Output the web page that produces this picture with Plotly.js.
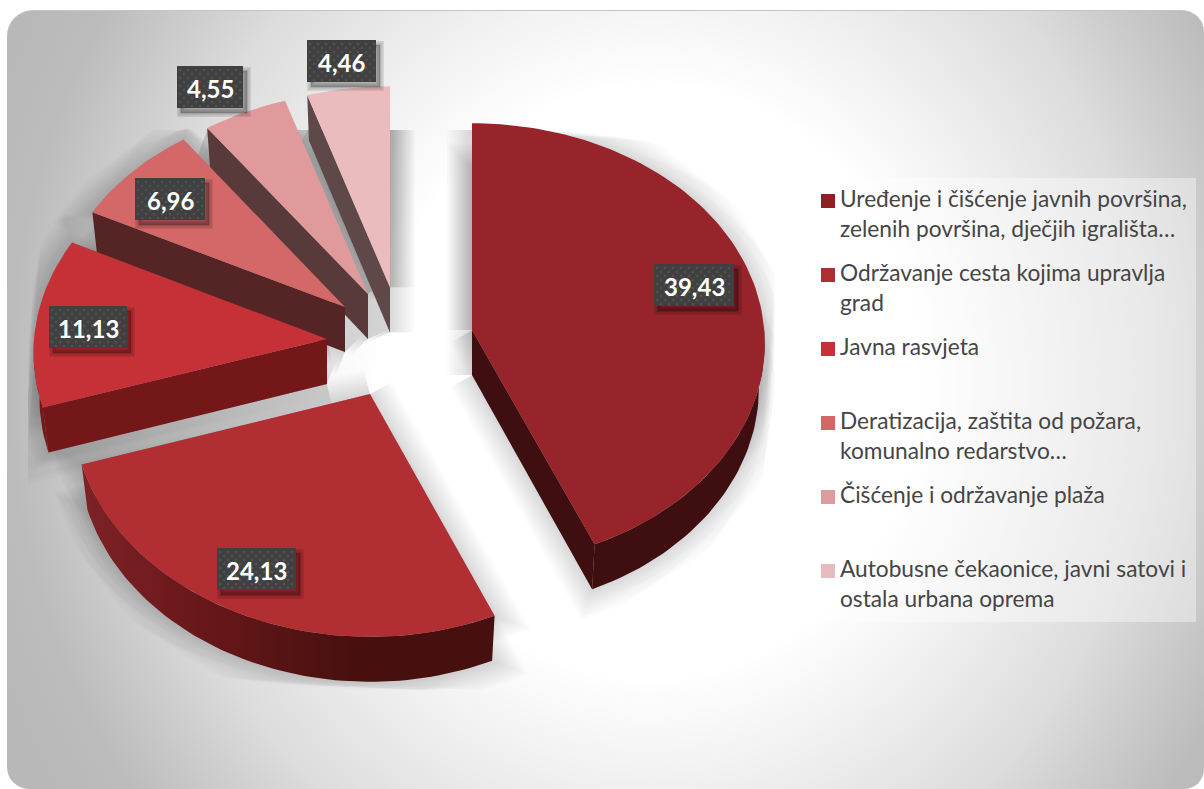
<!DOCTYPE html>
<html>
<head>
<meta charset="utf-8">
<script src="https://cdn.plot.ly/plotly-3.0.1.min.js"></script>
<style>
html,body{margin:0;padding:0;background:#fff;width:1204px;height:789px;overflow:hidden}
#card{position:absolute;left:7px;top:10px;width:1197px;height:779px;border-radius:26px 22px 20px 22px;
 border-top:1px solid #c4c4c4;box-sizing:border-box;
 background:radial-gradient(ellipse 640px 700px at 643px 370px,#fff 0%,#fff 42%,#f0f0f0 58%,#dcdcdc 78%,#cdcdcd 88%,#bcbcbc 100%,#b8b8b8 110%)}
#chart{position:absolute;left:0;top:0;width:1204px;height:789px}
</style>
</head>
<body>
<div id="card"></div>
<div id="chart"></div>
<script>
// ---- data ----
const categories = [
  "Uređenje i čišćenje javnih površina,<br>zelenih površina, dječjih igrališta…",
  "Održavanje cesta kojima upravlja<br>grad",
  "Javna rasvjeta",
  "Deratizacija, zaštita od požara,<br>komunalno redarstvo…",
  "Čišćenje i održavanje plaža",
  "Autobusne čekaonice, javni satovi i<br>ostala urbana oprema"
];
const values = [39.43, 24.13, 11.13, 6.96, 4.55, 4.46];
const topColors = ["#97242a", "#b12e33", "#c53136", "#d46767", "#e09a9b", "#ebbcbd"];
const swatchColors = ["#8f2126", "#ae2e32", "#c53136", "#d46666", "#de9a9c", "#e8bcbe"];
const cutColors = ["#3e0e10", "#45100f", "#741719", "#552425", "#593a3b", "#5e4948"];

// ---- exploded-pie view (layout constants) ----
const apexX = [472, 370, 327, 345, 368, 390];
const apexDepth = [-0.045, 0.24, -0.0045, -0.15, -0.21, -0.24];
const labelX = [694, 256.5, 88, 170, 210, 341.5];
const labelY = [285, 569, 327, 199, 87, 61];
const labelW = [80, 79, 78, 70, 66, 69];
const labelH = 42, R = 293, PERSP = 0.06, DEPTH = 45, FLOOR = 0.98;
const screenY = Y => 340 + 222 * Y + 14 * Y * Y;

const total = values.reduce((a, b) => a + b, 0);
let cum = 0;
const spans = values.map(v => { const s = [cum, cum + v / total * 360]; cum = s[1]; return s; });
const rad = d => d * Math.PI / 180;
const rim = (i, a) => {
  const Y = apexDepth[i] - Math.cos(rad(a));
  return [apexX[i] + Math.sin(rad(a)) * R * (1 + PERSP * Y), screenY(Y)];
};
const apex = i => [apexX[i], screenY(apexDepth[i])];
const arc = (i, a0, a1) => {
  const n = Math.max(2, Math.ceil(Math.abs(a1 - a0) / 1.5)), p = [];
  for (let k = 0; k <= n; k++) p.push(rim(i, a0 + (a1 - a0) * k / n));
  return p;
};
const down = (i, p) => [apexX[i] + (p[0] - apexX[i]) * FLOOR, p[1] + DEPTH];
const topPoly = i => [apex(i)].concat(arc(i, spans[i][0], spans[i][1]));

const closed = pts => ({x: pts.map(p => p[0]).concat(pts[0][0]), y: pts.map(p => p[1]).concat(pts[0][1])});
const polyTrace = (pts, extra) => Object.assign({
  type: 'scatter', mode: 'lines', fill: 'toself', hoverinfo: 'skip', showlegend: false,
  line: {width: 0, color: 'rgba(0,0,0,0)'}
}, closed(pts), extra);

const traces = [];

// soft shadow behind the pie, clipped like the reference
const shadowWidths = [50, 46, 42, 38, 34, 30, 26, 22, 18, 14, 10, 6, 2];
const shadowAlpha = 0.0135;
shadowWidths.forEach(w => {
  const xs = [], ys = [];
  const clamp = (v, lo, hi) => Math.max(lo, Math.min(hi, v));
  values.forEach((_, i) => {
    const t = topPoly(i);
    [t, t.map(p => down(i, p))].forEach(poly => {
      poly.concat([poly[0]]).forEach(p => {
        xs.push(clamp(p[0], 28 + w / 2, 775 - w / 2));
        ys.push(clamp(p[1], 130 + w / 2, 690 - w / 2));
      });
      xs.push(null); ys.push(null);
    });
  });
  traces.push({type: 'scatter', mode: 'lines', x: xs, y: ys, fill: 'toself',
    fillcolor: 'rgba(0,0,0,' + shadowAlpha + ')', hoverinfo: 'skip', showlegend: false,
    line: {width: w, color: 'rgba(0,0,0,' + shadowAlpha + ')'}});
});

// wall gradients (outer rim)
const wallScale = {
  0: [[0, '#3e0e10'], [1, '#3e0e10']],
  1: [[0, '#7d2226'], [0.3, '#681719'], [0.65, '#47100f'], [1, '#45100f']],
  2: [[0, '#741719'], [1, '#741719']]
};

// draw back-to-front
[5, 4, 3, 2, 0, 1].forEach(i => {
  const [a0, a1] = spans[i];
  const v0 = Math.max(a0, 90), v1 = Math.min(a1, 270);
  if (a0 > 180) {
    const p0 = apex(i), p1 = rim(i, a0);
    traces.push(polyTrace([p0, p1, down(i, p1), down(i, p0)], {fillcolor: cutColors[i]}));
  }
  if (a1 < 180) {
    const p0 = apex(i), p1 = rim(i, a1);
    traces.push(polyTrace([p0, p1, down(i, p1), down(i, p0)], {fillcolor: cutColors[i]}));
  }
  if (v1 > v0) {
    const a = arc(i, v0, v1);
    const poly = a.concat(a.slice().reverse().map(p => down(i, p)));
    const xs = poly.map(p => p[0]);
    traces.push(polyTrace(poly, {
      fillcolor: cutColors[i],
      fillgradient: {type: 'horizontal', colorscale: wallScale[i],
        start: Math.min.apply(null, xs), stop: Math.max.apply(null, xs)}
    }));
  }
  traces.push(polyTrace(topPoly(i), {fillcolor: topColors[i]}));
});

// value label boxes
const dotsX = [], dotsY = [];
values.forEach((_, i) => {
  const l = labelX[i] - labelW[i] / 2, r = labelX[i] + labelW[i] / 2;
  const t = labelY[i] - labelH / 2, b = labelY[i] + labelH / 2;
  const sh = [[l + 4, t + 5], [r + 4, t + 5], [r + 4, b + 5], [l + 4, b + 5]];
  [8, 5, 2].forEach(w => traces.push(polyTrace(sh, {
    fillcolor: 'rgba(0,0,0,0.09)', line: {width: w, color: 'rgba(0,0,0,0.09)'}})));
  traces.push(polyTrace([[l, t], [r, t], [r, b], [l, b]], {fillcolor: '#404040'}));
  let row = 0;
  for (let y = t + 4; y < b - 1; y += 4, row++) {
    for (let x = l + 3 + (row % 2 ? 4 : 0); x < r - 1; x += 8) { dotsX.push(x); dotsY.push(y); }
  }
});
traces.push({type: 'scatter', mode: 'markers', x: dotsX, y: dotsY, hoverinfo: 'skip', showlegend: false,
  marker: {size: 2.6, color: '#525252', line: {width: 0}}});

// legend swatches
const legendStartY = 201, legendStep = 74;
traces.push({type: 'scatter', mode: 'markers', hoverinfo: 'skip', showlegend: false,
  x: categories.map(() => 828), y: categories.map((_, i) => legendStartY + i * legendStep),
  marker: {symbol: 'square', size: 14, color: swatchColors, line: {width: 0}}});

const annotations = [];
values.forEach((v, i) => annotations.push({
  xref: 'x', yref: 'y', x: labelX[i], y: labelY[i] + 1, showarrow: false,
  text: '<b>' + v.toFixed(2).replace('.', ',') + '</b>',
  font: {family: 'Lato, "Noto Sans", sans-serif', size: 24, color: '#ffffff'}
}));
categories.forEach((c, i) => annotations.push({
  xref: 'x', yref: 'y', x: 839, y: legendStartY - 17.5 + i * legendStep, xanchor: 'left', yanchor: 'top',
  align: 'left', showarrow: false, text: c, borderpad: 0,
  font: {family: 'Lato, "Noto Sans", sans-serif', size: 22.7, color: '#454545'}
}));

const layout = {
  width: 1204, height: 789, margin: {l: 0, r: 0, t: 0, b: 0},
  paper_bgcolor: 'rgba(0,0,0,0)', plot_bgcolor: 'rgba(0,0,0,0)', showlegend: false,
  xaxis: {range: [0, 1204], visible: false, fixedrange: true},
  yaxis: {range: [789, 0], visible: false, fixedrange: true},
  shapes: [{type: 'rect', xref: 'x', yref: 'y', x0: 808, x1: 1196, y0: 178, y1: 622,
    fillcolor: 'rgba(255,255,255,0.38)', line: {width: 0}, layer: 'below'}],
  annotations: annotations
};
Plotly.newPlot('chart', traces, layout, {displayModeBar: false, staticPlot: true});
</script>
</body>
</html>
